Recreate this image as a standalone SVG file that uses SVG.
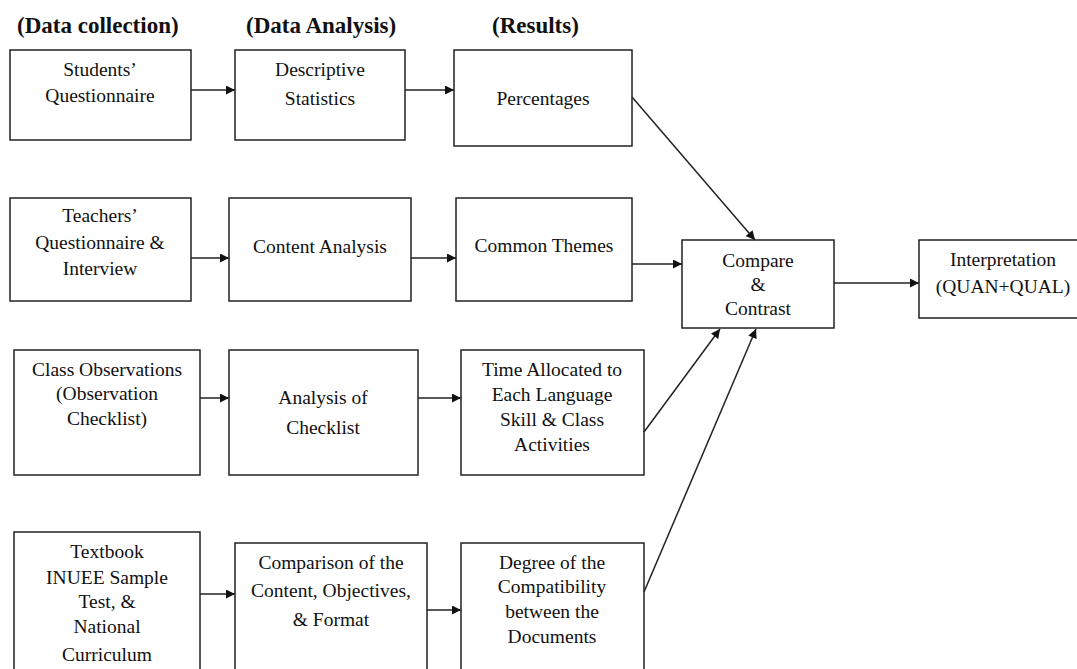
<svg xmlns="http://www.w3.org/2000/svg" width="1077" height="669" viewBox="0 0 1077 669">
<style>
.box{fill:#fff;stroke:#222;stroke-width:1.5}
.t{font-family:"Liberation Serif","Times New Roman",serif;font-size:19.5px;fill:#111;text-anchor:middle}
.h{font-family:"Liberation Serif","Times New Roman",serif;font-size:23px;font-weight:bold;fill:#111}
.c{stroke:#222;stroke-width:1.5;fill:none;marker-end:url(#ah)}
</style>
<defs>
<marker id="ah" viewBox="0 0 10 10" refX="10" refY="5" markerWidth="10" markerHeight="9" markerUnits="userSpaceOnUse" orient="auto">
<path d="M0,0 L10,5 L0,10 z" fill="#111"/>
</marker>
</defs>
<rect width="1077" height="669" fill="#fff"/>
<g id="headers">
<text class="h" x="17" y="33">(Data collection)</text>
<text class="h" x="246" y="33">(Data Analysis)</text>
<text class="h" x="492" y="33">(Results)</text>
</g>
<g id="n1"><rect class="box" x="10" y="50" width="181" height="90"/>
<text class="t" x="100" y="76">Students’</text><text class="t" x="100" y="102">Questionnaire</text></g>
<g id="n2"><rect class="box" x="235" y="50" width="170" height="90"/>
<text class="t" x="320" y="76">Descriptive</text><text class="t" x="320" y="105">Statistics</text></g>
<g id="n3"><rect class="box" x="454" y="50" width="178" height="96"/>
<text class="t" x="543" y="105">Percentages</text></g>
<g id="n4"><rect class="box" x="10" y="198" width="181" height="103"/>
<text class="t" x="100" y="222">Teachers’</text><text class="t" x="100" y="249">Questionnaire &amp;</text><text class="t" x="100" y="275">Interview</text></g>
<g id="n5"><rect class="box" x="229" y="198" width="182" height="103"/>
<text class="t" x="320" y="253">Content Analysis</text></g>
<g id="n6"><rect class="box" x="456" y="198" width="176" height="103"/>
<text class="t" x="544" y="252">Common Themes</text></g>
<g id="n7"><rect class="box" x="14" y="350" width="186" height="125"/>
<text class="t" x="107" y="376">Class Observations</text><text class="t" x="107" y="400">(Observation</text><text class="t" x="107" y="425">Checklist)</text></g>
<g id="n8"><rect class="box" x="229" y="350" width="189" height="125"/>
<text class="t" x="323" y="404">Analysis of</text><text class="t" x="323" y="434">Checklist</text></g>
<g id="n9"><rect class="box" x="461" y="350" width="183" height="125"/>
<text class="t" x="552" y="376">Time Allocated to</text><text class="t" x="552" y="401">Each Language</text><text class="t" x="552" y="426">Skill &amp; Class</text><text class="t" x="552" y="451">Activities</text></g>
<g id="n10"><rect class="box" x="14" y="532" width="186" height="140"/>
<text class="t" x="107" y="558">Textbook</text><text class="t" x="107" y="584">INUEE Sample</text><text class="t" x="107" y="608">Test, &amp;</text><text class="t" x="107" y="633">National</text><text class="t" x="107" y="661">Curriculum</text></g>
<g id="n11"><rect class="box" x="235" y="543" width="192" height="130"/>
<text class="t" x="331" y="569">Comparison of the</text><text class="t" x="331" y="597">Content, Objectives,</text><text class="t" x="331" y="626">&amp; Format</text></g>
<g id="n12"><rect class="box" x="461" y="543" width="183" height="130"/>
<text class="t" x="552" y="569">Degree of the</text><text class="t" x="552" y="593">Compatibility</text><text class="t" x="552" y="618">between the</text><text class="t" x="552" y="643">Documents</text></g>
<g id="n13"><rect class="box" x="682" y="240" width="152" height="88"/>
<text class="t" x="758" y="267">Compare</text><text class="t" x="758" y="291">&amp;</text><text class="t" x="758" y="315">Contrast</text></g>
<g id="n14"><rect class="box" x="919" y="240" width="170" height="78"/>
<text class="t" x="1003" y="266">Interpretation</text><text class="t" x="1003" y="293">(QUAN+QUAL)</text></g>
<g id="connectors">
<line class="c" x1="191" y1="90" x2="235" y2="90"/>
<line class="c" x1="405" y1="90" x2="454" y2="90"/>
<line class="c" x1="191" y1="258" x2="229" y2="258"/>
<line class="c" x1="411" y1="258" x2="456" y2="258"/>
<line class="c" x1="632" y1="264" x2="682" y2="264"/>
<line class="c" x1="200" y1="398" x2="229" y2="398"/>
<line class="c" x1="418" y1="398" x2="461" y2="398"/>
<line class="c" x1="200" y1="594" x2="235" y2="594"/>
<line class="c" x1="427" y1="610" x2="461" y2="610"/>
<line class="c" x1="834" y1="283" x2="919" y2="283"/>
<line class="c" x1="632" y1="97" x2="755" y2="240"/>
<line class="c" x1="644" y1="432" x2="720" y2="329"/>
<line class="c" x1="644" y1="592" x2="756" y2="329"/>
</g>
</svg>
